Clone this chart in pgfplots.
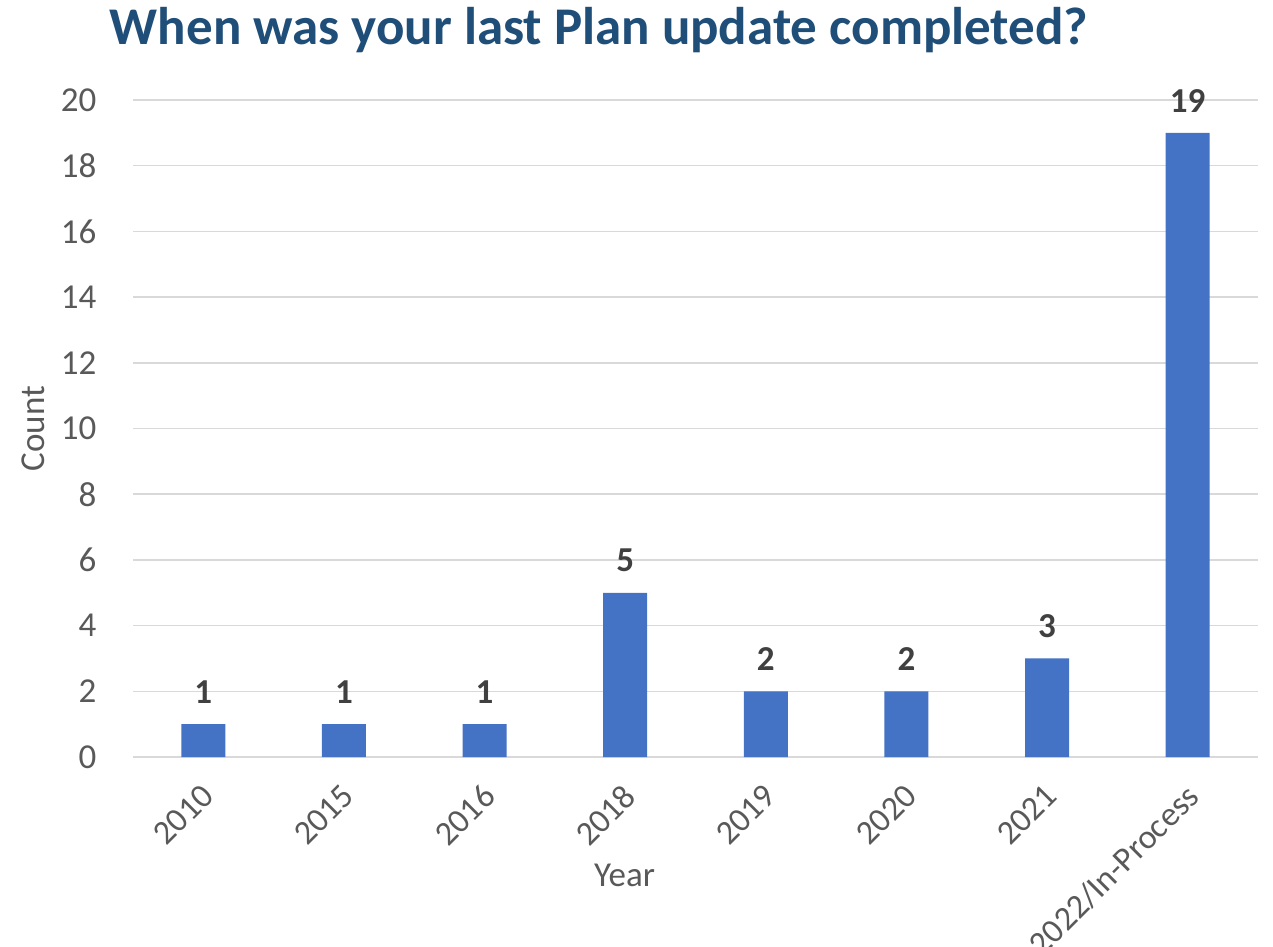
\documentclass[border=0pt]{standalone}
\usepackage{pgfplots}
\pgfplotsset{compat=1.18}
\usepackage{fontspec}
\setmainfont{Carlito}
\definecolor{barblue}{HTML}{4472C4}
\definecolor{titleblue}{HTML}{1F4E79}
\definecolor{ticktext}{HTML}{595959}
\definecolor{labeltext}{HTML}{404040}
\definecolor{gridgray}{HTML}{D9D9D9}
\begin{document}
\begin{tikzpicture}[x=1pt,y=1pt]
\begin{axis}[
  at={(0,0)}, anchor=south west,
  scale only axis,
  width=1125pt, height=657pt,
  xmin=-0.5, xmax=7.5,
  ymin=0, ymax=20,
  ytick={0,2,...,20},
  xtick={0,...,7},
  xticklabels={2010,2015,2016,2018,2019,2020,2021,2022/In-Process},
  axis line style={draw=none},
  major tick length=0pt,
  ymajorgrids,
  grid style={gridgray, line width=1.5pt},
  tick label style={font=\fontsize{35}{40}\selectfont, text=ticktext},
  /pgf/number format/assume math mode=true,
  yticklabel style={xshift=-33pt},
  xticklabel style={font=\fontsize{34}{40}\selectfont, rotate=45, anchor=north east, xshift=-17pt, yshift=-12pt},
  xlabel={Year}, ylabel={Count},
  label style={font=\fontsize{35}{40}\selectfont, text=ticktext},
  xlabel style={at={(axis description cs:0.437,0)}, anchor=center, yshift=-118pt},
  ylabel style={at={(axis description cs:-0.089,0.5)}, anchor=center},
  nodes near coords,
  every node near coord/.append style={font=\bfseries\fontsize{35}{40}\selectfont, text=labeltext, yshift=17pt},
]
\addplot[ybar, bar width=44pt, fill=barblue, draw=none] coordinates {
  (0,1) (1,1) (2,1) (3,5) (4,2) (5,2) (6,3) (7,19)
};
\end{axis}
\node[font=\bfseries\fontsize{53}{60}\selectfont, text=titleblue] at (466,727) {When was your last Plan update completed?};
\pgfresetboundingbox
\path[use as bounding box] (-133,-189) rectangle (1140,757);
\end{tikzpicture}
\end{document}
